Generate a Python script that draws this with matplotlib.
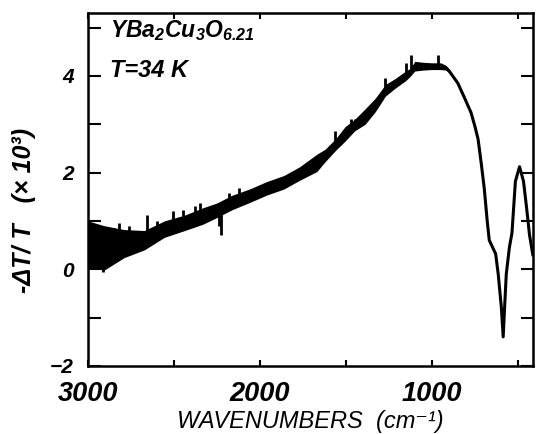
import matplotlib
matplotlib.use('Agg')
import matplotlib.pyplot as plt
from matplotlib.ticker import MultipleLocator, FixedLocator

plt.rcParams['font.family'] = ['Liberation Sans', 'DejaVu Sans']
plt.rcParams['mathtext.fontset'] = 'custom'
plt.rcParams['mathtext.rm'] = 'Liberation Sans:bold:italic'
plt.rcParams['mathtext.it'] = 'Liberation Sans:bold:italic'

# smoothed trace
wavenumber = [3000, 2906, 2789, 2672, 2555, 2437, 2332, 2250, 2162, 2060,
              1963, 1860, 1769, 1669, 1622, 1560, 1505, 1450, 1388, 1329,
              1271, 1212, 1153, 1124, 1100, 1050, 1000, 950, 920, 900,
              872, 850, 814, 773, 750, 732, 714, 696, 679, 667, 650, 630,
              615, 597, 586, 578, 568, 550, 535, 515, 491, 468, 450, 433, 414]
signal = [0.52, 0.44, 0.53, 0.60, 0.83, 0.96, 1.10, 1.22, 1.38, 1.52,
          1.67, 1.80, 1.98, 2.20, 2.35, 2.58, 2.80, 2.98, 3.16, 3.40,
          3.70, 3.85, 4.00, 4.08, 4.20, 4.20, 4.20, 4.20, 4.17, 4.10,
          3.96, 3.85, 3.57, 3.24, 2.95, 2.69, 2.20, 1.67, 1.00, 0.60, 0.47, 0.32,
          -0.10, -0.78, -1.40, -0.80, -0.10, 0.45, 0.75, 1.82, 2.12, 1.82, 1.27, 0.71, 0.30]
# half width of the noisy band
noise = [0.48, 0.46, 0.29, 0.20, 0.17, 0.16, 0.17, 0.15, 0.15, 0.14,
         0.14, 0.14, 0.14, 0.18, 0.13, 0.12, 0.15, 0.12, 0.16, 0.14,
         0.12, 0.10, 0.10, 0.08, 0.10, 0.08, 0.07, 0.07, 0.05, 0.04,
         0.02, 0.02, 0.02, 0.02, 0.02, 0.02, 0.02, 0.02, 0.02, 0.02, 0.02, 0.02,
         0.02, 0.02, 0.02, 0.02, 0.02, 0.02, 0.02, 0.02, 0.02, 0.02, 0.02, 0.02, 0.02]

# isolated spikes (base on the band, tip)
spike_wn = [2912, 2818, 2760, 2654, 2600, 2508, 2449, 2379, 2349, 2238,
            2226, 2179, 2121, 2051, 1564, 1470, 1450, 1271, 1153, 1124, 966]
spike_base = [0.40, 0.55, 0.55, 0.62, 0.72, 0.88, 0.96, 1.06, 1.08, 1.22,
              1.24, 1.34, 1.42, 1.52, 2.58, 2.90, 2.98, 3.70, 4.00, 4.10, 4.20]
spike_top = [-0.06, 0.95, 0.90, 1.12, 1.00, 1.20, 1.22, 1.30, 1.37, 0.90,
             0.70, 1.57, 1.67, 1.63, 2.85, 3.10, 3.10, 3.95, 4.26, 4.43, 4.43]

fig = plt.figure(figsize=(5.36, 4.34), dpi=100)
ax = fig.add_axes([0.164, 0.157, 0.830, 0.813])

lo = [s - n for s, n in zip(signal, noise)]
hi = [s + n for s, n in zip(signal, noise)]
ax.fill_between(wavenumber, lo, hi, color='black', lw=0)
ax.plot(wavenumber, signal, color='black', lw=2.2)
ax.vlines(spike_wn, spike_base, spike_top, color='black', lw=2.0)

ax.set_xlim(3000, 414)
ax.set_ylim(-2, 5.3)

ax.xaxis.set_major_locator(FixedLocator([3000, 2000, 1000]))
ax.xaxis.set_minor_locator(MultipleLocator(500))
ax.yaxis.set_major_locator(MultipleLocator(2))
ax.yaxis.set_minor_locator(MultipleLocator(1))
ax.tick_params(which='both', direction='in', top=True, right=True, width=1.5)
ax.tick_params(axis='y', which='both', length=9)
ax.tick_params(axis='x', which='both', length=4)
ax.tick_params(axis='y', labelsize=15, pad=10)
ax.tick_params(axis='x', labelsize=19.5, pad=11)
for lab in ax.get_xticklabels() + ax.get_yticklabels():
    lab.set_fontweight('bold')
    lab.set_fontstyle('italic')
for sp in ax.spines.values():
    sp.set_linewidth(1.8)

ax.set_xlabel('WAVENUMBERS  (cm\u207b\u00b9)', fontsize=17, style='italic',
              labelpad=2)
ax.set_ylabel('-\u0394T/ T   (\u00d7 10\u00b3)', fontsize=18, style='italic',
              fontweight='bold')
ax.yaxis.set_label_coords(-0.117, 0.44)

ax.text(0.05, 0.985, r'$\mathrm{YBa_2Cu_3O_{6.21}}$', transform=ax.transAxes,
        fontsize=16.5, va='top', ha='left')
ax.text(0.05, 0.87, 'T=34 K', transform=ax.transAxes, fontsize=17,
        fontweight='bold', style='italic', va='top', ha='left')

fig.savefig('out.png', dpi=100)
